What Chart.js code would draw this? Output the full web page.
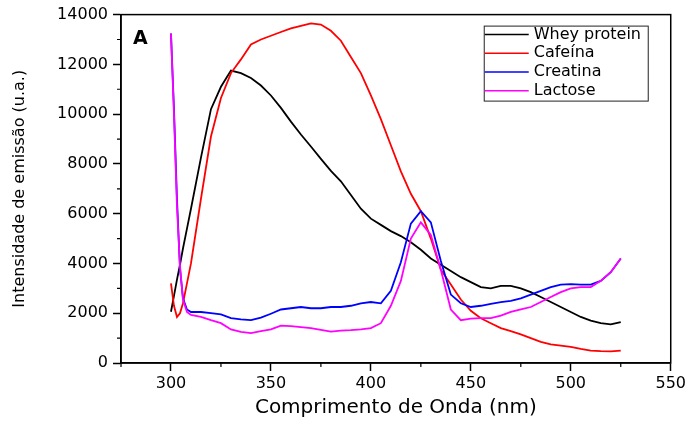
<!DOCTYPE html>
<html>
<head>
<meta charset="utf-8">
<script src="https://cdn.jsdelivr.net/npm/chart.js@4.4.1/dist/chart.umd.min.js"></script>
<style>
  body { margin: 0; background: #fff; }
  #wrap { width: 689px; height: 421px; position: relative; }
</style>
</head>
<body>
<div id="wrap"><canvas id="espectro"></canvas></div>
<script>
// comprimento de onda (nm)
const wavelength = [300, 301.5, 303, 304.5, 306, 308, 310, 315, 320, 325, 330, 335, 340, 345, 350, 355, 360, 365, 370, 375,
    380, 385, 390, 395, 400, 405, 410, 415, 420, 425, 430, 435, 440, 445, 450, 455, 460, 465, 470, 475,
    480, 485, 490, 495, 500, 505, 510, 515, 520, 525];

const wheyProtein = [2060, 2700, 3350, 3950, 4600, 5400, 6200, 8250, 10200, 11100, 11750, 11650, 11450, 11150, 10750, 10250, 9700, 9180, 8700, 8200,
    7720, 7300, 6750, 6200, 5800, 5550, 5300, 5100, 4850, 4550, 4200, 3950, 3700, 3450, 3250, 3050, 3000, 3100, 3100, 3000,
    2850, 2650, 2450, 2250, 2050, 1850, 1700, 1600, 1550, 1640];

const cafeina = [3200, 2300, 1850, 2000, 2400, 3200, 4000, 6600, 9100, 10650, 11650, 12200, 12800, 13000, 13150, 13300, 13450, 13550, 13650, 13600,
    13350, 12950, 12300, 11650, 10750, 9800, 8750, 7700, 6800, 6100, 5000, 3750, 3150, 2550, 2100, 1800, 1600, 1400, 1280, 1150,
    1000, 850, 750, 700, 650, 570, 500, 480, 470, 500];

const creatina = [13240, 10200, 6600, 3800, 2600, 2150, 2050, 2050, 2000, 1950, 1800, 1750, 1720, 1820, 1980, 2150, 2200, 2250, 2200, 2200,
    2250, 2250, 2300, 2400, 2450, 2400, 2900, 4050, 5600, 6100, 5650, 4100, 2750, 2400, 2250, 2300, 2380, 2450, 2500, 2600,
    2750, 2900, 3050, 3150, 3170, 3150, 3150, 3300, 3650, 4200];

const lactose = [13240, 10000, 6300, 3900, 2550, 2050, 1930, 1850, 1720, 1600, 1350, 1250, 1200, 1280, 1350, 1500, 1480, 1440, 1400, 1330,
    1260, 1300, 1320, 1350, 1400, 1600, 2300, 3300, 5000, 5650, 5150, 3750, 2150, 1720, 1780, 1800, 1800, 1900, 2050, 2150,
    2250, 2450, 2650, 2850, 3000, 3050, 3050, 3300, 3650, 4200];

const xTicks = [300, 350, 400, 450, 500, 550];
const xMinorTicks = [275, 325, 375, 425, 475, 525];
const yMinorTicks = [1000, 3000, 5000, 7000, 9000, 11000, 13000];

const toPoints = (vals) => wavelength.map((w, i) => ({ x: w, y: vals[i] }));

const makeSet = (label, vals, color, order) => ({
    label: label,
    data: toPoints(vals),
    borderColor: color,
    backgroundColor: color,
    borderWidth: 1.8,
    pointRadius: 0,
    tension: 0,
    fill: false,
    order: order
});

// moldura, ticks menores, legenda e letra do painel
const framePlugin = {
    id: "frame",
    afterDraw: (chart) => {
        const ctx = chart.ctx;
        const area = chart.chartArea;
        const xs = chart.scales.x;
        const ys = chart.scales.y;
        ctx.save();
        ctx.strokeStyle = "#000";
        ctx.lineWidth = 1.5;
        ctx.strokeRect(area.left, area.top, area.right - area.left, area.bottom - area.top);

        ctx.lineWidth = 1.2;
        ctx.beginPath();
        yMinorTicks.forEach(v => {
            const y = ys.getPixelForValue(v);
            ctx.moveTo(area.left - 4, y);
            ctx.lineTo(area.left, y);
        });
        xMinorTicks.forEach(v => {
            const x = xs.getPixelForValue(v);
            ctx.moveTo(x, area.bottom);
            ctx.lineTo(x, area.bottom + 4);
        });
        ctx.stroke();

        // legenda
        const boxL = area.right - 187, boxT = area.top + 11, boxW = 164, boxH = 75;
        ctx.lineWidth = 1;
        ctx.strokeStyle = "#222";
        ctx.strokeRect(boxL + 0.5, boxT + 0.5, boxW, boxH);
        ctx.font = "16px 'DejaVu Sans'";
        ctx.textBaseline = "middle";
        ctx.fillStyle = "#000";
        chart.data.datasets.forEach((ds, i) => {
            const y = boxT + 9 + i * 18.7;
            ctx.strokeStyle = ds.borderColor;
            ctx.lineWidth = 1.5;
            ctx.beginPath();
            ctx.moveTo(boxL + 1, y);
            ctx.lineTo(boxL + 45, y);
            ctx.stroke();
            ctx.fillText(ds.label, boxL + 50, y);
        });

        ctx.font = "bold 19px 'DejaVu Sans'";
        ctx.fillText("A", area.left + 12, area.top + 24);
        ctx.restore();
    }
};

new Chart(document.getElementById("espectro"), {
    type: "line",
    data: {
        datasets: [
            makeSet("Whey protein", wheyProtein, "#000000", 3),
            makeSet("Cafeína", cafeina, "#ff0000", 2),
            makeSet("Creatina", creatina, "#0000ff", 1),
            makeSet("Lactose", lactose, "#ff00ff", 0)
        ]
    },
    options: {
        responsive: true,
        maintainAspectRatio: false,
        animation: false,
        layout: { padding: { left: 10, top: 14, right: 15, bottom: 1 } },
        plugins: {
            legend: { display: false },
            tooltip: { enabled: false }
        },
        scales: {
            x: {
                type: "linear",
                min: 275,
                max: 550,
                afterBuildTicks: (axis) => { axis.ticks = xTicks.map(v => ({ value: v })); },
                afterFit: (axis) => { axis.height = 421 - 363 - 1; },
                border: { display: true, color: "#000", width: 1.5 },
                grid: { display: true, drawOnChartArea: false, drawTicks: true, tickLength: 8, tickColor: "#000", tickWidth: 1.5 },
                ticks: { color: "#000", padding: 3, maxRotation: 0, callback: (v) => String(v), font: { family: "'DejaVu Sans'", size: 16 } },
                title: {
                    display: true,
                    text: "Comprimento de Onda (nm)",
                    color: "#000",
                    padding: 0,
                    font: { family: "'DejaVu Sans'", size: 20 }
                }
            },
            y: {
                min: 0,
                max: 14000,
                ticks: { stepSize: 2000, color: "#000", padding: 5, callback: (v) => String(v), font: { family: "'DejaVu Sans'", size: 16 } },
                afterFit: (axis) => { axis.width = 121 - 10; },
                border: { display: true, color: "#000", width: 1.5 },
                grid: { display: true, drawOnChartArea: false, drawTicks: true, tickLength: 8, tickColor: "#000", tickWidth: 1.5 },
                title: {
                    display: true,
                    text: "Intensidade de emissão (u.a.)",
                    color: "#000",
                    padding: 0,
                    font: { family: "'DejaVu Sans'", size: 16 }
                }
            }
        }
    },
    plugins: [framePlugin]
});
</script>
</body>
</html>
